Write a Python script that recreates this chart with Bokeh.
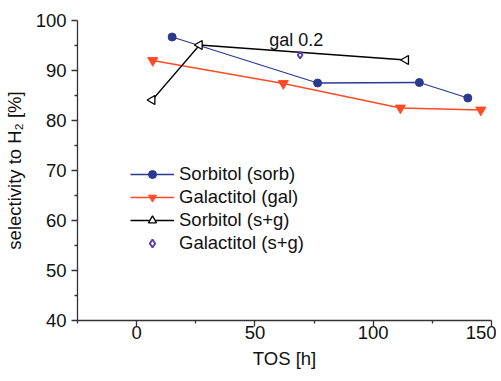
from bokeh.plotting import figure
from bokeh.models import FixedTicker, Legend, LegendItem, Label, Range1d
from bokeh.embed import file_html
from bokeh.resources import INLINE
import math

# Data
sorb_x = [15, 76.5, 119.5, 140]
sorb_y = [96.7, 87.5, 87.6, 84.5]
gal_x = [6.8, 62, 111.5, 145.5]
gal_y = [92.0, 87.4, 82.5, 82.1]
sg_sorb_x = [6.6, 26.6, 113.8]
sg_sorb_y = [84.1, 95.1, 92.1]
sg_gal_x = [69.1]
sg_gal_y = [93.1]

x_major = [0, 50, 100, 150]
x_minor = [-25, 25, 75, 125]
y_major = [40, 50, 60, 70, 80, 90, 100]
y_minor = [45, 55, 65, 75, 85, 95]

FONT = "Liberation Sans"
FS = "18.5px"
BLUE = "#2b3990"
RED = "#ff4a26"
PURPLE = "#5b44a8"

p = figure(width=496, height=373, output_backend="svg", toolbar_location=None,
           x_range=Range1d(-25, 150), y_range=Range1d(40, 100),
           min_border_left=77, min_border_right=5, min_border_top=20, min_border_bottom=53)
p.outline_line_color = None
p.grid.visible = False
p.background_fill_color = "white"

for ax in (p.xaxis[0], p.yaxis[0]):
    ax.major_tick_out = 6
    ax.major_tick_in = 0
    ax.minor_tick_out = 3
    ax.minor_tick_in = 0
    ax.axis_line_color = "#333333"
    ax.major_tick_line_color = "#333333"
    ax.minor_tick_line_color = "#333333"
    ax.axis_line_width = 1.3
    ax.major_tick_line_width = 1.3
    ax.minor_tick_line_width = 1.3
    ax.major_label_text_font = FONT
    ax.major_label_text_font_size = FS
    ax.major_label_text_color = "#111111"
    ax.axis_label_text_font = FONT
    ax.axis_label_text_font_size = FS
    ax.axis_label_text_font_style = "normal"
    ax.axis_label_text_color = "#111111"

p.xaxis.ticker = FixedTicker(ticks=x_major, minor_ticks=x_minor)
p.yaxis.ticker = FixedTicker(ticks=y_major, minor_ticks=y_minor)
p.xaxis.axis_label = "TOS [h]"
p.yaxis.axis_label = "selectivity to H\u2082 [%]"
p.xaxis.major_label_standoff = -1
p.yaxis.major_label_standoff = 5
p.xaxis.axis_label_standoff = 6
p.yaxis.axis_label_standoff = 8

l1 = p.line(sorb_x, sorb_y, line_color=BLUE, line_width=1.3)
m1 = p.scatter(sorb_x, sorb_y, marker="circle", size=8, fill_color=BLUE, line_color=BLUE)
l2 = p.line(gal_x, gal_y, line_color=RED, line_width=1.3)
m2 = p.scatter(gal_x, gal_y, marker="inverted_triangle", size=10, fill_color=RED, line_color=RED)
l3 = p.line(sg_sorb_x, sg_sorb_y, line_color="black", line_width=1.3)
m3 = p.scatter(sg_sorb_x, sg_sorb_y, marker="triangle", angle=math.pi / 2, size=9,
               fill_color="white", line_color="black", line_width=1.3)
m4 = p.scatter(sg_gal_x, sg_gal_y, marker="diamond", size=7, fill_color="white",
               line_color=PURPLE, line_width=2)

p.add_layout(Label(x=67.5, y=96.2, text="gal 0.2", text_align="center", text_baseline="alphabetic",
                   text_font=FONT, text_font_size="18px", text_color="#111111"))

legend = Legend(items=[
    LegendItem(label="Sorbitol (sorb)", renderers=[l1, m1]),
    LegendItem(label="Galactitol (gal)", renderers=[l2, m2]),
    LegendItem(label="Sorbitol (s+g)", renderers=[l3, m3]),
    LegendItem(label="Galactitol (s+g)", renderers=[m4]),
], location=(53, 66), glyph_width=44, glyph_height=20, label_height=20, spacing=1,
    label_standoff=5, padding=0, margin=0, border_line_color=None,
    background_fill_alpha=0, label_text_font=FONT, label_text_font_size=FS,
    label_text_color="#111111")
p.add_layout(legend, "center")

open("out.html", "w").write(file_html(p, INLINE))
